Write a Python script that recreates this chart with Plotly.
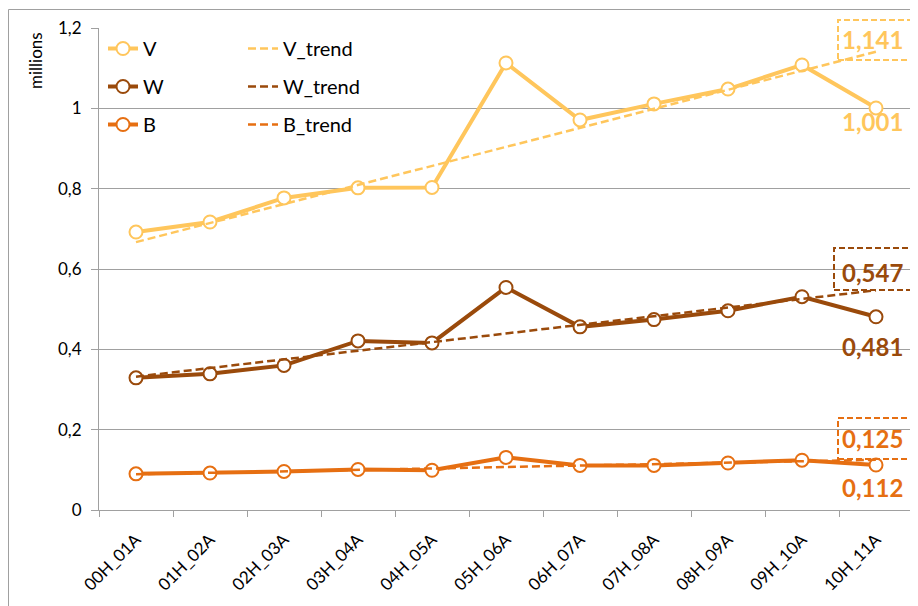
import plotly.graph_objects as go

categories = ["00H_01A", "01H_02A", "02H_03A", "03H_04A", "04H_05A", "05H_06A",
              "06H_07A", "07H_08A", "08H_09A", "09H_10A", "10H_11A"]
V = [0.692, 0.717, 0.777, 0.802, 0.803, 1.113, 0.971, 1.011, 1.048, 1.108, 1.001]
W = [0.329, 0.339, 0.360, 0.421, 0.416, 0.554, 0.456, 0.474, 0.496, 0.531, 0.481]
B = [0.090, 0.092, 0.096, 0.101, 0.099, 0.131, 0.111, 0.111, 0.117, 0.124, 0.112]
# trend line end values (first and last category)
V_trend = [0.667, 1.141]
W_trend = [0.332, 0.547]
B_trend = [0.089, 0.125]
y_ticks = [0, 0.2, 0.4, 0.6, 0.8, 1.0, 1.2]

C_V = "#FFC65C"
C_W = "#9A4A0B"
C_B = "#E66F12"
FONT = "Lato"

fig = go.Figure()

for name, vals, col in [("V", V, C_V), ("W", W, C_W), ("B", B, C_B)]:
    fig.add_trace(go.Scatter(
        x=categories, y=vals, name=name, mode="lines+markers",
        line=dict(color=col, width=4),
        marker=dict(symbol="circle", size=13, color="white", line=dict(color=col, width=2)),
        legend="legend", legendgroup=name,
    ))

trend_x = [categories[0], categories[-1]]
for name, vals, col in [("V_trend", V_trend, C_V), ("W_trend", W_trend, C_W), ("B_trend", B_trend, C_B)]:
    fig.add_trace(go.Scatter(
        x=trend_x, y=vals, name=name, mode="lines",
        line=dict(color=col, width=2.5, dash="8px,4px"),
        legend="legend2", legendgroup=name,
    ))

def fmt(v):
    return f"{v:.3f}".replace(".", ",")

annotations = []
for vals, col, ys in [(V, C_V, -14), (W, C_W, -30), (B, C_B, -22)]:
    annotations.append(dict(x=categories[-1], y=vals[-1], text=fmt(vals[-1]), showarrow=False,
                            xshift=-4, yshift=ys, yanchor="middle",
                            font=dict(family=FONT, size=24, color=col, weight="bold")))
for vals, col, ys in [(V_trend, C_V, 12), (W_trend, C_W, 18), (B_trend, C_B, 21)]:
    annotations.append(dict(x=categories[-1], y=vals[-1], text=fmt(vals[-1]), showarrow=False,
                            xshift=-4, yshift=ys, yanchor="middle",
                            font=dict(family=FONT, size=24, color=col, weight="bold")))

# page-pixel -> plot-area fraction (plot area spans x 99..913, y 28..510 on the page)
def px_x(p):
    return (p - 99) / 814

def px_y(p):
    return (510 - p) / 482

annotations.append(dict(xref="paper", yref="paper", x=px_x(36), y=px_y(61),
                        xanchor="center", yanchor="middle",
                        text="millions", textangle=-90, showarrow=False,
                        font=dict(family=FONT, size=17, color="#000000")))

shapes = []
for (x0, x1, y0, y1, col) in [(838, 914, 20, 60, C_V), (834, 913, 248, 290, C_W), (838, 915, 418, 459, C_B)]:
    shapes.append(dict(type="rect", xref="paper", yref="paper",
                       x0=px_x(x0), x1=px_x(x1), y0=px_y(y1), y1=px_y(y0),
                       line=dict(color=col, width=2, dash="6px,3px")))
shapes.append(dict(type="line", xref="paper", yref="paper", x0=px_x(8.5), x1=px_x(920), y0=px_y(9.5), y1=px_y(9.5),
                   line=dict(color="#A0A0A0", width=1)))
shapes.append(dict(type="line", xref="paper", yref="paper", x0=px_x(8.5), x1=px_x(8.5), y0=px_y(9.5), y1=px_y(610),
                   line=dict(color="#A0A0A0", width=1)))

# the page body adds an 8px offset, so the figure is 8px smaller and margins shifted
fig.update_layout(
    width=910, height=598,
    margin=dict(l=91, r=5, t=20, b=96, autoexpand=False),
    paper_bgcolor="white", plot_bgcolor="white",
    separators=",.",
    font=dict(family=FONT, color="#000000"),
    showlegend=True,
    legend=dict(x=px_x(103), y=px_y(29), xanchor="left", yanchor="top",
                bgcolor="rgba(0,0,0,0)", font=dict(family=FONT, size=20),
                tracegroupgap=9, itemwidth=30),
    legend2=dict(x=px_x(243), y=px_y(29), xanchor="left", yanchor="top",
                 bgcolor="rgba(0,0,0,0)", font=dict(family=FONT, size=20),
                 tracegroupgap=9, itemwidth=30),
    annotations=annotations,
    shapes=shapes,
)

fig.update_xaxes(
    type="category", range=[-0.5, len(categories) - 0.5],
    tickson="boundaries", ticks="outside", ticklen=6, tickcolor="#A0A0A0",
    showline=True, linecolor="#A0A0A0", linewidth=1, showgrid=False, automargin=False,
    tickangle=-45, tickfont=dict(family=FONT, size=17, color="#000000"), ticklabelstandoff=12,
)
fig.update_yaxes(
    range=[0, 1.2], tickvals=y_ticks, ticks="outside", ticklen=7, tickcolor="#A0A0A0",
    showline=True, linecolor="#A0A0A0", linewidth=1, automargin=False,
    showgrid=True, gridcolor="#A0A0A0", gridwidth=1, zeroline=False,
    tickfont=dict(family=FONT, size=17, color="#000000"), ticklabelstandoff=6,
)

fig.write_html("out.html")
